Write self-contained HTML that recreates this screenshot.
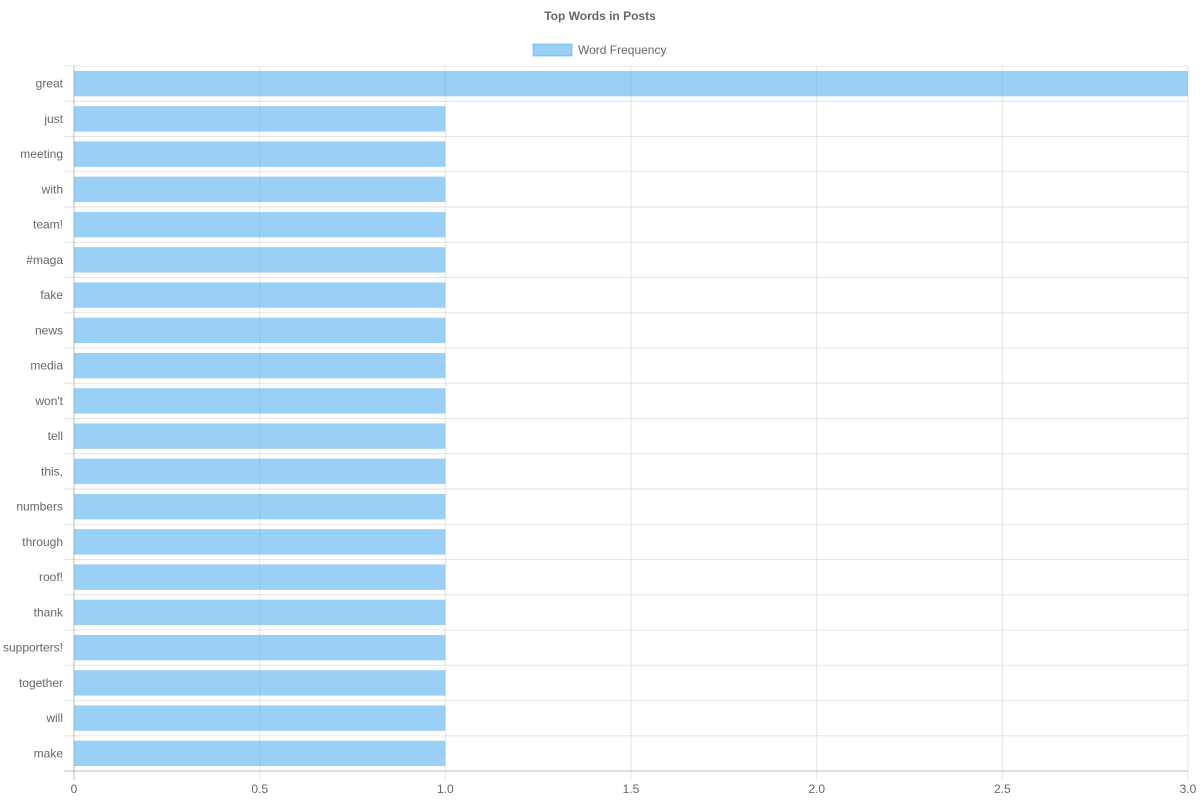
<!DOCTYPE html>
<html><head><meta charset="utf-8"><style>
body{margin:0;background:#fff;font-family:"Liberation Sans",Arial,sans-serif}
svg text{font-family:"Liberation Sans",Arial,sans-serif}
</style></head><body>
<svg id="chart" width="1200" height="800" xmlns="http://www.w3.org/2000/svg">
<text x="600" y="20" text-anchor="middle" font-size="12" font-weight="bold" fill="#666">Top Words in Posts</text>
<g>
<rect x="533" y="44" width="39" height="12" fill="rgba(54,162,235,0.5)" stroke="rgba(54,162,235,0.5)"/>
<text x="578" y="54" font-size="12" fill="#666">Word Frequency</text>
</g>
<g id="grid"></g><g id="bars"></g><g id="labels"></g>
</svg>
<script>
const categories=["great","just","meeting","with","team!","#maga","fake","news","media","won't","tell","this,","numbers","through","roof!","thank","supporters!","together","will","make"];
const values=[3,1,1,1,1,1,1,1,1,1,1,1,1,1,1,1,1,1,1,1];
const xTicks=[0,0.5,1,1.5,2,2.5,3];
const xTickLabels=["0","0.5","1.0","1.5","2.0","2.5","3.0"];
const NS="http://www.w3.org/2000/svg";
const L=74,R=1188,T=66,B=771,xMax=3;
const xs=v=>L+(R-L)*v/xMax;
const band=(B-T)/categories.length;
const ys=i=>T+band*i;
function mk(tag,attrs,parent){const e=document.createElementNS(NS,tag);for(const k in attrs)e.setAttribute(k,attrs[k]);document.getElementById(parent).appendChild(e);return e;}
xTicks.forEach((t,i)=>{
 const g=mk('line',{x1:xs(t),x2:xs(t),y1:T,y2:B+9,stroke:i==0?'rgba(0,0,0,0.25)':'rgba(0,0,0,0.1)'},'grid');
 
 
 const tx=mk('text',{x:xs(t),y:B+22,'text-anchor':'middle','font-size':12,fill:'#666'},'labels');
 tx.textContent=xTickLabels[i];
 
 
});
for(let i=0;i<=categories.length;i++){
 const g=mk('line',{x1:L-10,x2:R,y1:ys(i),y2:ys(i),stroke:i==categories.length?'rgba(0,0,0,0.25)':'rgba(0,0,0,0.1)'},'grid');
 
 
}
categories.forEach((c,i)=>{
 const h=band*0.72;
 const b=mk('rect',{x:xs(0),y:ys(i)+(band-h)/2,width:xs(values[i])-xs(0),height:h,fill:'rgba(54,162,235,0.5)'},'bars');
 
 
 const tx=mk('text',{x:L-11,y:ys(i)+band/2+4,'text-anchor':'end','font-size':12,fill:'#666'},'labels');
 tx.textContent=c;
 
 
});
</script>
</body></html>
